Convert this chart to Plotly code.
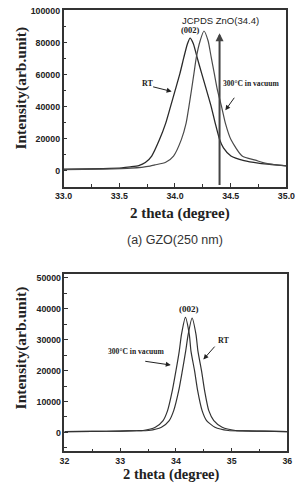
import plotly.graph_objects as go

W, H = 302, 491

# ---- data: top panel (a) GZO(250 nm) ----
top_rt_x = [33.0, 33.354, 33.523, 33.6, 33.675, 33.734, 33.791, 33.861, 33.917, 33.96, 34.002, 34.044,
            34.08, 34.11, 34.135, 34.165, 34.198, 34.24, 34.283, 34.325, 34.361, 34.401,
            34.435, 34.502, 34.62, 34.747, 35.0]
top_rt_y = [800, 1240, 1700, 2300, 3100, 5000, 9100, 19380, 29720, 40060, 50340, 60680,
            71020, 79000, 83000, 79500, 71020, 60680, 50340, 40060, 29720, 19380,
            14240, 9100, 6190, 4640, 2910]

top_va_x = [33.0, 33.354, 33.608, 33.776, 33.82, 33.917, 33.987, 34.057, 34.1, 34.125, 34.148, 34.17,
            34.192, 34.226, 34.26, 34.297, 34.325, 34.353, 34.381, 34.418, 34.452, 34.502,
            34.603, 34.722, 34.789, 34.89, 35.0]
top_va_y = [620, 900, 1500, 2800, 3500, 5200, 9100, 19380, 29720, 40060, 50340, 60680,
            71020, 81300, 87400, 81300, 71020, 60680, 50340, 40060, 29720, 19380,
            9100, 6500, 4950, 3720, 2910]

# ---- data: bottom panel ----
bot_va_x = [32.0, 32.5, 33.0, 33.3, 33.41, 33.63, 33.77, 33.85, 33.935, 34.0, 34.06, 34.10, 34.17,
            34.24, 34.27, 34.335, 34.39, 34.47, 34.55, 34.70, 34.94, 35.2, 35.5, 36.0]
bot_va_y = [300, 350, 450, 550, 640, 1700, 3850, 7050, 13500, 19900, 26300, 31700, 37200,
            31700, 26300, 19900, 13500, 7050, 3850, 1700, 640, 500, 400, 300]

bot_rt_x = [32.0, 32.5, 33.0, 33.3, 33.51, 33.74, 33.88, 33.96, 34.05, 34.115, 34.175, 34.22, 34.29,
            34.36, 34.395, 34.46, 34.515, 34.59, 34.68, 34.83, 35.07, 35.3, 35.6, 36.0]
bot_rt_y = [300, 350, 450, 550, 640, 1700, 3850, 7050, 13500, 19900, 26300, 31700, 37000,
            31700, 26300, 19900, 13500, 7050, 3850, 1700, 640, 500, 400, 300]

top_xticks = [33.0, 33.5, 34.0, 34.5, 35.0]
top_xtext = ["33.0", "33.5", "34.0", "34.5", "35.0"]
top_yticks = [0, 20000, 40000, 60000, 80000, 100000]
bot_xticks = [32, 33, 34, 35, 36]
bot_yticks = [0, 10000, 20000, 30000, 40000, 50000]
jcpds_pos = 34.4

def px(x):
    return x / W

def py(y):
    return 1 - y / H

line_kw = dict(shape="spline", smoothing=0.6)
fig = go.Figure()
fig.add_trace(go.Scatter(x=top_rt_x, y=top_rt_y, mode="lines", line=dict(color="#2a2a2a", width=1.3, **line_kw), xaxis="x", yaxis="y"))
fig.add_trace(go.Scatter(x=top_va_x, y=top_va_y, mode="lines", line=dict(color="#4a4a4a", width=1.2, **line_kw), xaxis="x", yaxis="y"))
fig.add_trace(go.Scatter(x=bot_va_x, y=bot_va_y, mode="lines", line=dict(color="#333", width=1.2, **line_kw), xaxis="x2", yaxis="y2"))
fig.add_trace(go.Scatter(x=bot_rt_x, y=bot_rt_y, mode="lines", line=dict(color="#333", width=1.2, **line_kw), xaxis="x2", yaxis="y2"))

tickfont = dict(family="Liberation Sans", size=8.8, color="#222", weight="bold")
common = dict(showline=True, mirror=True, linecolor="#333", linewidth=1.5, ticks="inside", ticklen=4,
              tickwidth=1, tickcolor="#333", showgrid=False, zeroline=False, tickfont=tickfont,
              minor=dict(ticks="inside", ticklen=2.5, tickwidth=1, tickcolor="#333", showgrid=False))

fig.update_layout(
    width=W, height=H, margin=dict(l=0, r=0, t=0, b=0), showlegend=False,
    paper_bgcolor="white", plot_bgcolor="white",
    xaxis=dict(domain=[px(58), px(295)], range=[33, 35], tickvals=top_xticks, ticktext=top_xtext,
               anchor="y", **{**common, "minor": dict(common["minor"], dtick=0.25)}),
    yaxis=dict(domain=[py(184), py(6)], range=[-10000, 100600], tickvals=top_yticks, tickformat="d",
               anchor="x", **{**common, "minor": dict(common["minor"], dtick=10000, tick0=0)}),
    xaxis2=dict(domain=[px(59), px(296)], range=[32, 36], tickvals=bot_xticks,
                anchor="y2", **{**common, "minor": dict(common["minor"], dtick=0.5)}),
    yaxis2=dict(domain=[py(451), py(272)], range=[-6100, 51300], tickvals=bot_yticks, tickformat="d",
                anchor="x2", **{**common, "minor": dict(common["minor"], dtick=5000, tick0=0)}),
)

serif = "Liberation Serif"
ann = []
def text(t, x, y, size, family=serif, bold=True, rot=0, color="#222"):
    ann.append(dict(text=t, x=px(x), y=py(y), xref="paper", yref="paper", showarrow=False,
                    textangle=rot, xanchor="center", yanchor="middle",
                    font=dict(family=family, size=size, color=color, weight="bold" if bold else "normal")))

text("Intensity(arb.unit)", 13, 85, 15.5, rot=-90)
text("Intensity(arb.unit)", 13, 347, 15.5, rot=-90)
text("2 theta (degree)", 181.5, 211, 15)
text("2 theta (degree)", 172.5, 474, 14.5)
text("(a) GZO(250 nm)", 176.5, 238, 12.5, family="Liberation Sans", bold=False, color="#333")
text("JCPDS ZnO(34.4)", 225, 17, 9.5, family="Liberation Sans", bold=False)
text("(002)", 193, 26, 8.5)
text("RT", 147, 80, 8)
text("300°C in vacuum", 257, 80, 7.6)
text("(002)", 191.7, 308, 9)
text("RT", 228, 339, 8)
text("300°C in vacuum", 135, 350, 7.6)

def arrow(x, y, ax, ay, xr, yr):
    ann.append(dict(text="", x=x, y=y, xref=xr, yref=yr, ax=ax, ay=ay, showarrow=True,
                    arrowhead=2, arrowsize=1, arrowwidth=1, arrowcolor="#222"))

arrow(33.970, 49540, -20, -5, "x", "y")
arrow(34.452, 37770, 10, -14, "x", "y")
arrow(34.493, 23620, 12.6, -14.3, "x2", "y2")
arrow(33.907, 21790, -27, -4, "x2", "y2")

# JCPDS vertical arrow
ann.append(dict(text="", x=jcpds_pos, y=86000, xref="x", yref="y", ax=jcpds_pos, ay=-10000,
                axref="x", ayref="y", showarrow=True, arrowhead=2, arrowsize=0.8, arrowwidth=2,
                arrowcolor="#444"))

fig.update_layout(annotations=ann)
fig.write_html("out.html")
